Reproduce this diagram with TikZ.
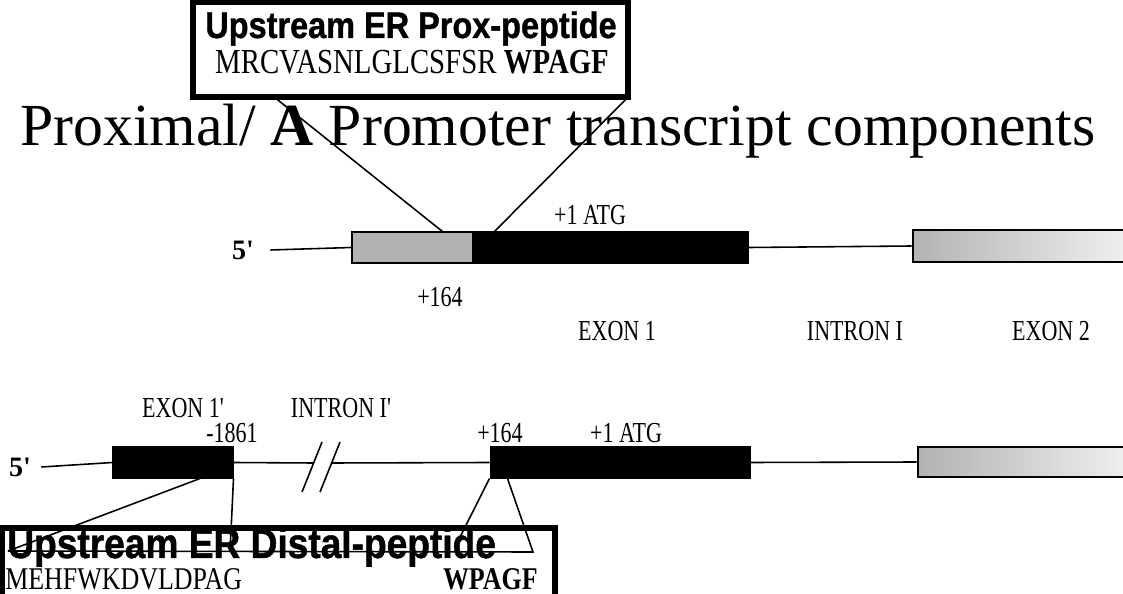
\documentclass[tikz,border=0pt]{standalone}
\usepackage{fontspec}
\setmainfont{Liberation Serif}
\newfontfamily\narrowserif[FakeStretch=0.76]{Liberation Serif}
\newfontfamily\seqserif[FakeStretch=0.82]{Liberation Serif}
\newfontfamily\headsans[FakeStretch=0.88, BoldFeatures={FakeBold=1}]{Liberation Sans}
\usetikzlibrary{calc}

\begin{document}
\begin{tikzpicture}[x=0.02cm, y=-0.02cm,
    exon/.style={draw, line width=0.6pt, minimum height=0.62cm, inner sep=0pt},
    blackexon/.style={exon, fill=black},
    lightexon/.style={exon, line width=1.6pt, left color=gray!60, right color=gray!10},
    lbl/.style={inner sep=0pt, font=\narrowserif\fontsize{16.5}{18}\selectfont},
    prime/.style={inner sep=0pt, font=\bfseries\fontsize{16}{18}\selectfont},
    pepbox/.style={draw, line width=3pt, inner sep=0pt},
    wire/.style={line width=0.9pt}]
  \useasboundingbox (0,0) rectangle (1123,594);
  \clip (0,0) rectangle (1123,594);

  % title
  \node (title) [anchor=base west, inner sep=0pt, font=\fontsize{34}{40}\selectfont]
    at (20,146) {Proximal/ \textbf{A} Promoter transcript components};

  % proximal (A) transcript
  \node (p5) [prime] at (243,250) {5\textquotesingle};
  \node (putr) [exon, fill=gray!60, minimum width=2.42cm] at (412.5,247.5) {};
  \node (pex1) [blackexon, minimum width=5.48cm] at (611,247.5) {};
  \node (pex2) [lightexon, minimum width=4.44cm, minimum height=0.64cm] at (1024,246) {};
  \draw[wire] ([xshift=0.32cm]p5.east) -- (putr.west);
  \draw[wire] (pex1.east) -- (pex2.west);

  \node (patg) [lbl] at (590,215) {+1 ATG};
  \node (p164) [lbl] at (440,297) {+164};
  \node (pex1lbl) [lbl] at (617,331) {EXON 1};
  \node (pint1lbl) [lbl] at (855,331) {INTRON I};
  \node (pex2lbl) [lbl] at (1051,331) {EXON 2};

  % proximal peptide box
  \node (proxbox) [pepbox, minimum width=8.7cm, minimum height=1.9cm] at (410.5,49.5) {};
  \node (proxhead) [anchor=base, inner sep=0pt, font=\headsans\bfseries\fontsize{21}{24}\selectfont]
    at (411,38) {Upstream ER Prox-peptide};
  \node (proxseq) [anchor=base, inner sep=0pt, font=\seqserif\fontsize{20}{22}\selectfont]
    at (412,74) {MRCVASNLGLCSFSR \textbf{WPAGF}};
  \draw[wire] ([xshift=1.74cm]proxbox.south west) -- ([xshift=1.82cm]putr.north west);
  \draw[wire] ([xshift=-0.1cm]proxbox.south east) -- ([xshift=0.42cm]pex1.north west);

  % distal transcript
  \node (dex1plbl) [lbl] at (183,408) {EXON 1'};
  \node (dint1lbl) [lbl] at (341,408) {INTRON I'};
  \node (d1861) [lbl] at (232,433) {-1861};
  \node (d164) [lbl] at (500,433) {+164};
  \node (datg) [lbl] at (626,433) {+1 ATG};

  \node (d5) [prime] at (20,467) {5\textquotesingle};
  \node (dex1p) [blackexon, minimum width=2.4cm] at (173,462.5) {};
  \node (dex1) [blackexon, minimum width=5.2cm] at (620,462.5) {};
  \node (dex2) [lightexon, minimum width=4.44cm, minimum height=0.6cm] at (1029,462) {};
  \coordinate (brk1) at (313.6,463);
  \coordinate (brk2) at (331.6,463);
  \draw[wire] ([xshift=0.2cm]d5.east) -- (dex1p.west);
  \draw[wire] (dex1p.east) -- (brk1);
  \draw[wire] (brk2) -- (dex1.west);
  \draw[wire] (dex1.east) -- (dex2.west);
  \draw[wire] (brk1) -- ++(-11.6,29) (brk1) -- ++(8.4,-21);
  \draw[wire] (brk2) -- ++(-11.6,29) (brk2) -- ++(8.4,-21);

  % distal peptide box
  \node (distbox) [pepbox, minimum width=11.06cm, minimum height=1.54cm] at (278.5,566.5) {};
  \coordinate (dl1) at (8,551);
  \coordinate (dl2) at (230,552);
  \coordinate (dr1) at (455,547);
  \coordinate (dr2) at (533,552);
  \draw[wire] ([xshift=0.54cm]dex1p.south) -- (dl1);
  \draw[wire] (dex1p.south east) -- (dl2);
  \draw[wire] (dex1.south west) -- (dr1);
  \draw[wire] ([xshift=0.36cm]dex1.south west) -- (dr2) -- (dl1);
  \node (disthead) [anchor=base west, inner sep=0pt, font=\headsans\bfseries\fontsize{24}{26}\selectfont]
    at (7,558) {Upstream ER Distal-peptide};
  \node (distseq) [anchor=base west, inner sep=0pt, font=\seqserif\fontsize{18}{20}\selectfont]
    at (5,589) {MEHFWKDVLDPAG};
  \node (distw) [anchor=base east, inner sep=0pt, font=\seqserif\bfseries\fontsize{18}{20}\selectfont]
    at (538,589) {WPAGF};
\end{tikzpicture}
\end{document}
